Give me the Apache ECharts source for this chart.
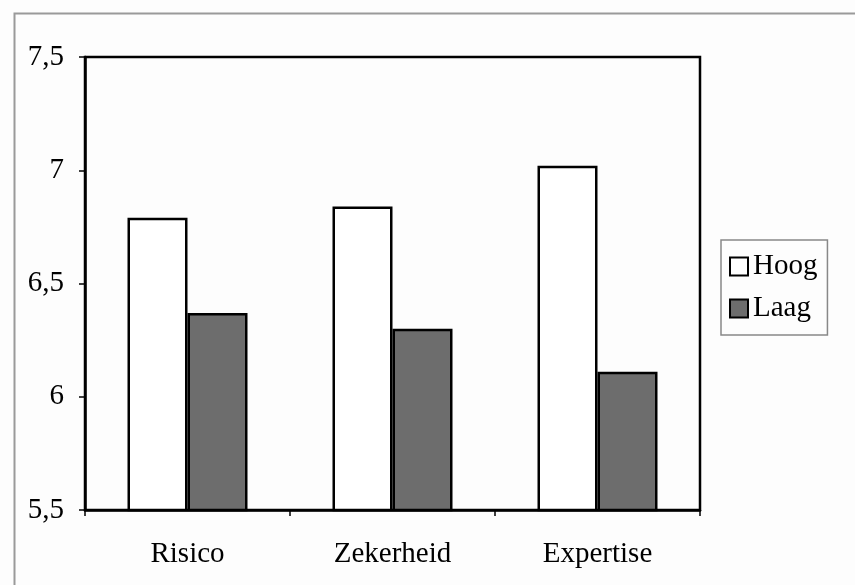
<!DOCTYPE html>
<html><head><meta charset="utf-8">
<script src="https://cdn.jsdelivr.net/npm/echarts@6/dist/echarts.min.js"></script>
<style>html,body{margin:0;padding:0;background:#fff}#c{width:855px;height:585px}</style>
</head><body><div id="c"></div>
<script>
const categories = ['Risico', 'Zekerheid', 'Expertise'];
const hoog = [6.79, 6.84, 7.02];
const laag = [6.37, 6.30, 6.11];
const seriesNames = ['Hoog', 'Laag'];
const serif = '"Liberation Serif", "DejaVu Serif", serif';

const chart = echarts.init(document.getElementById('c'));
chart.setOption({
  backgroundColor: '#fdfdfd',
  animation: false,
  graphic: [{
    type: 'rect', left: 12, top: 11,
    shape: { width: 860, height: 600 },
    style: { fill: 'none', stroke: '#9a9a9a', lineWidth: 2 }, silent: true
  }],
  grid: { left: 85, top: 57, right: 155, bottom: 75, show: true, borderColor: '#000', borderWidth: 2.5, backgroundColor: 'transparent' },
  legend: {
    orient: 'vertical', left: 721, top: 240, width: 107,
    data: seriesNames,
    itemWidth: 18, itemHeight: 18, itemGap: 13,
    padding: [12, 10, 12, 8],
    borderColor: '#888', borderWidth: 1.5,
    textStyle: { fontFamily: serif, fontSize: 29, color: '#000' },
    icon: 'rect'
  },
  xAxis: {
    type: 'category', data: categories,
    axisLine: { lineStyle: { color: '#000', width: 2.5 } },
    axisTick: { show: true, length: 6, lineStyle: { color: '#000', width: 1.5 } },
    axisLabel: { fontFamily: serif, fontSize: 29, color: '#000', margin: 30 }
  },
  yAxis: {
    type: 'value', min: 5.5, max: 7.5, interval: 0.5,
    axisLine: { show: true, lineStyle: { color: '#000', width: 2.5 } },
    axisTick: { show: true, length: 6, lineStyle: { color: '#000', width: 1.5 } },
    splitLine: { show: false },
    axisLabel: { fontFamily: serif, fontSize: 29, color: '#000', margin: 21,
      formatter: v => String(v).replace('.', ',') }
  },
  series: [
    { name: seriesNames[0], type: 'bar', data: hoog, barWidth: 60, barGap: '0%',
      itemStyle: { color: '#fff', borderColor: '#000', borderWidth: 2.5 } },
    { name: seriesNames[1], type: 'bar', data: laag, barWidth: 60, barGap: '0%',
      itemStyle: { color: '#6d6d6d', borderColor: '#000', borderWidth: 2.5 } }
  ]
});
</script></body></html>
